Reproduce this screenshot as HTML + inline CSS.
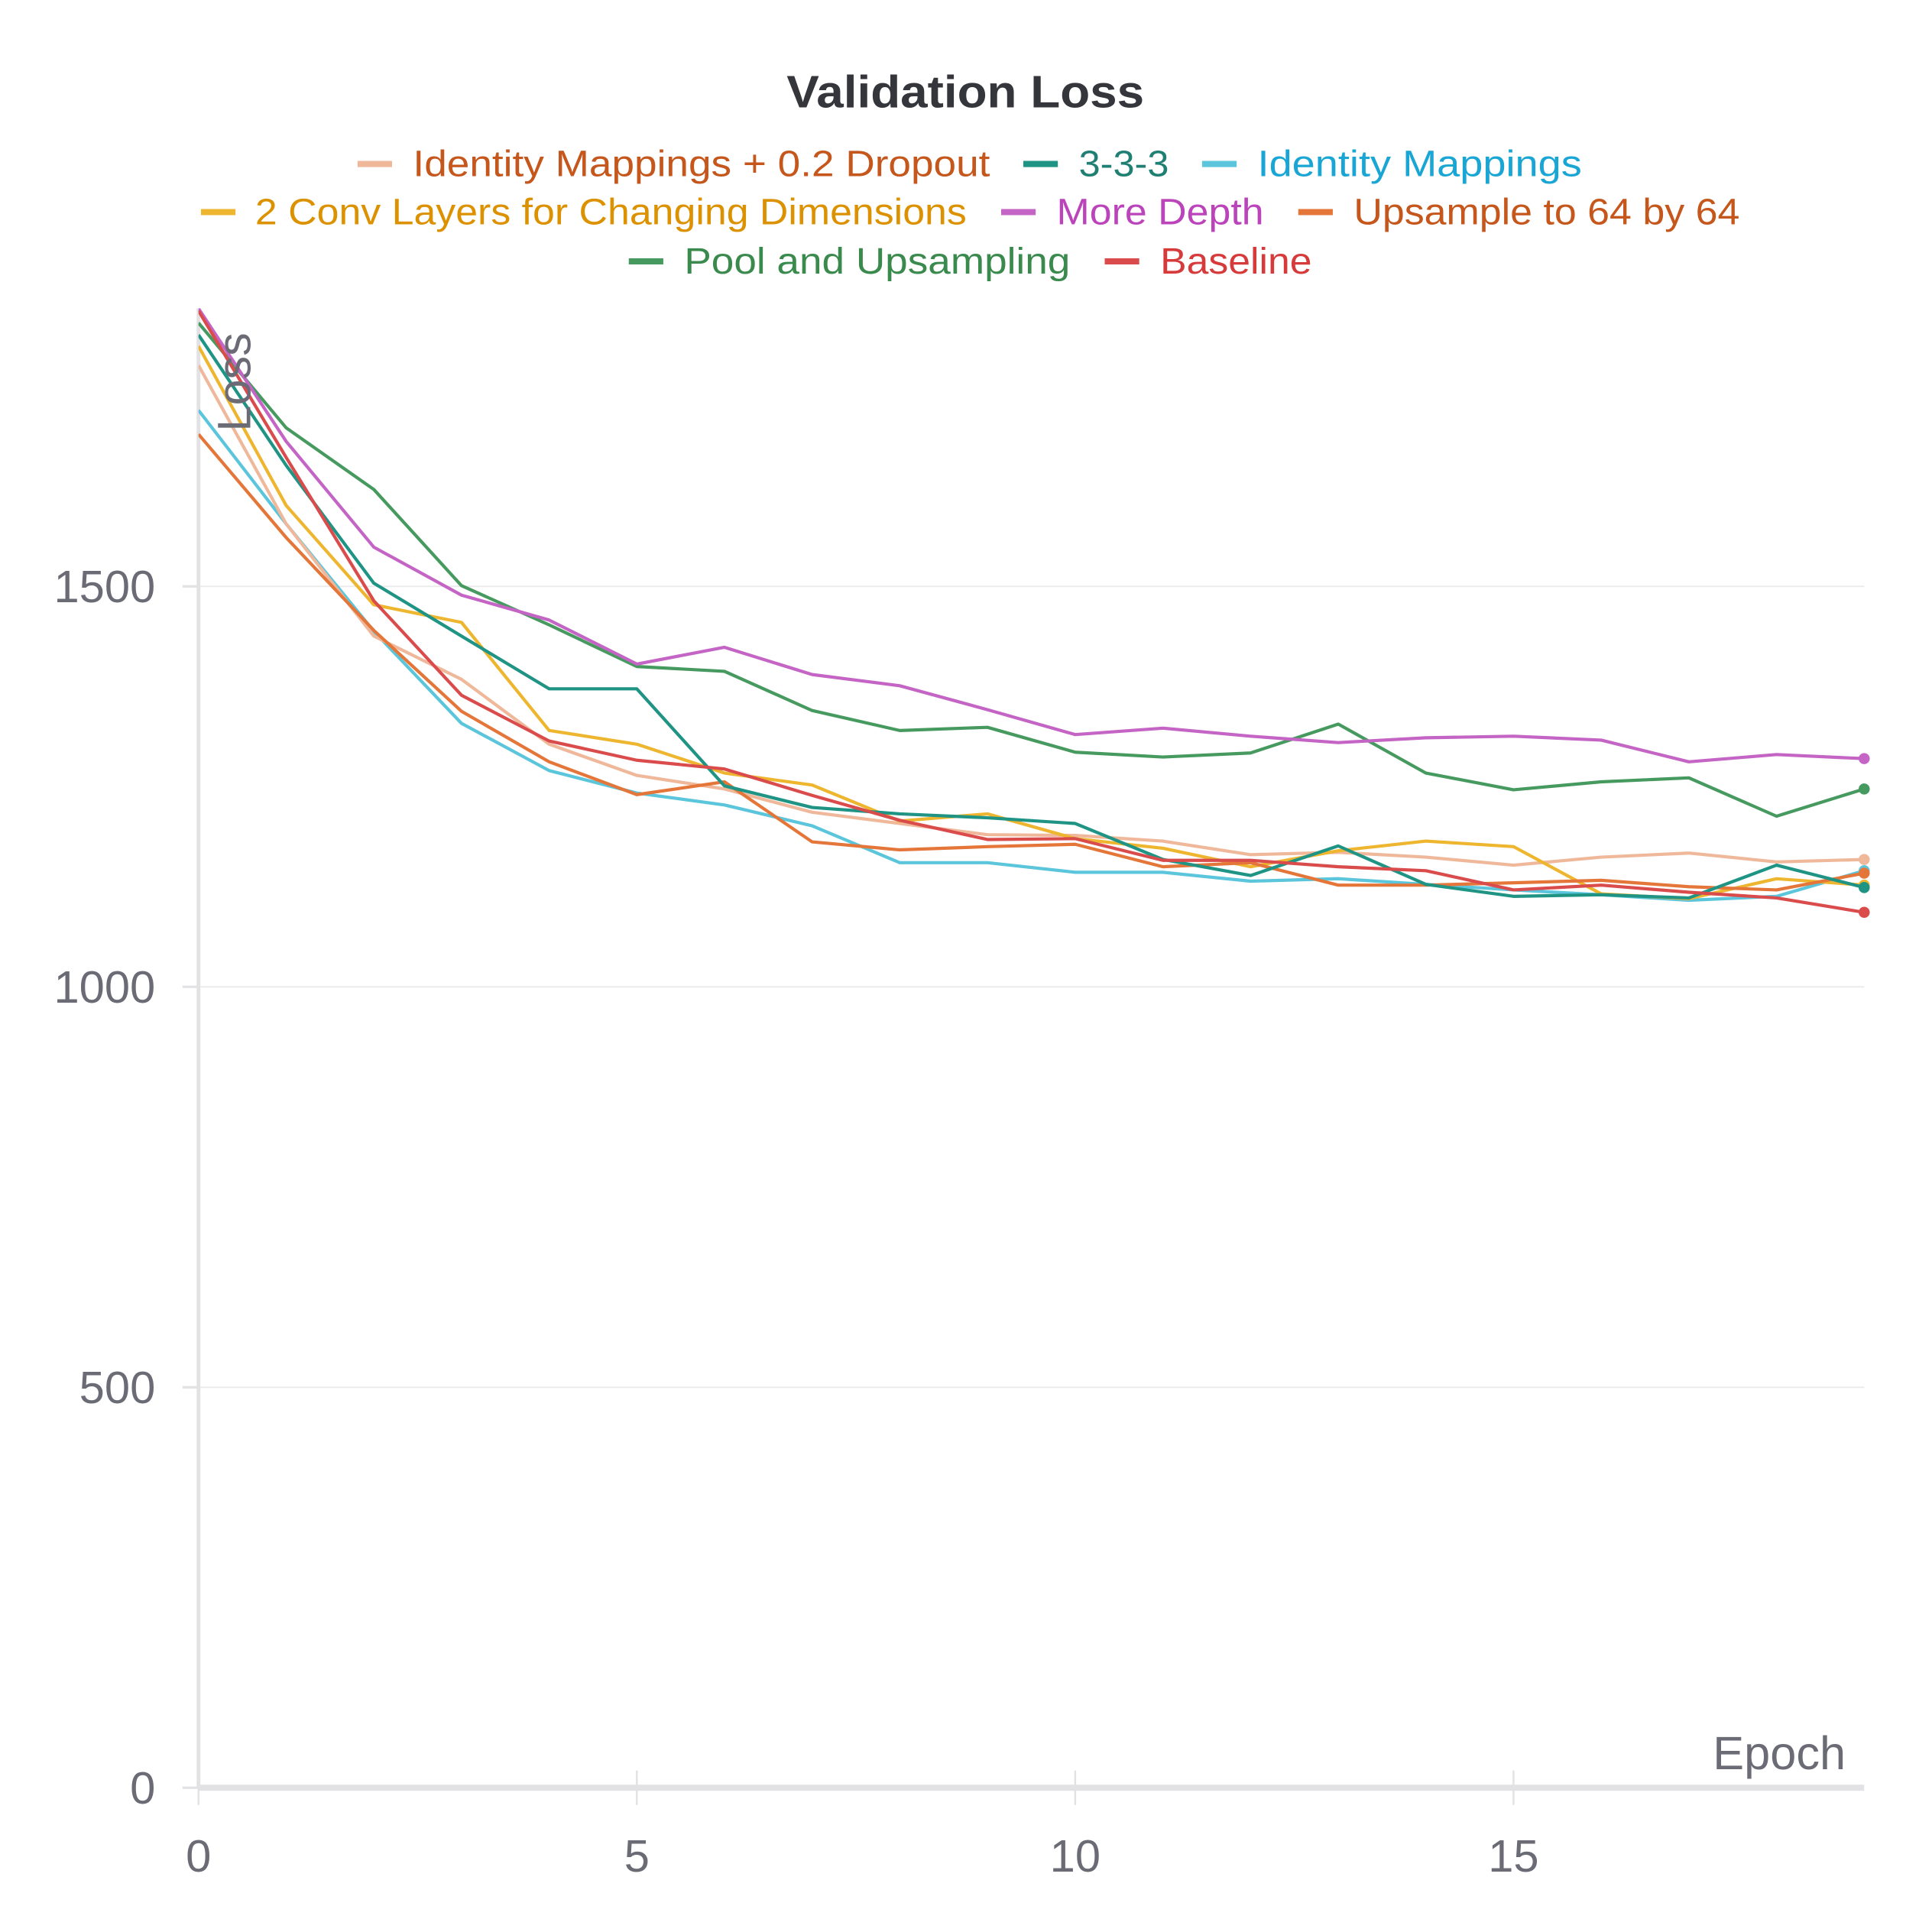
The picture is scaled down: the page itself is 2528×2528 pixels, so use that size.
<!DOCTYPE html>
<html><head><meta charset="utf-8"><style>
html,body{margin:0;padding:0;background:#fff;}
svg{display:block;font-family:"Liberation Sans",sans-serif;}
</style></head><body>
<svg id="chart" width="2528" height="2528" viewBox="0 0 1567 1567" xmlns="http://www.w3.org/2000/svg">
<text x="783" y="87" text-anchor="middle" font-size="37" font-weight="bold" fill="#35363b" textLength="290" lengthAdjust="spacingAndGlyphs">Validation Loss</text>
<g>
<line x1="290" x2="318" y1="133" y2="133" stroke="#f0b89a" stroke-width="5"/>
<text x="335" y="143" font-size="30" fill="#c5561c" textLength="468" lengthAdjust="spacingAndGlyphs">Identity Mappings + 0.2 Dropout</text>
<line x1="830" x2="858" y1="133" y2="133" stroke="#1f9484" stroke-width="5"/>
<text x="875" y="143" font-size="30" fill="#1f7f72" textLength="73" lengthAdjust="spacingAndGlyphs">3-3-3</text>
<line x1="975" x2="1003" y1="133" y2="133" stroke="#5bc5dc" stroke-width="5"/>
<text x="1020" y="143" font-size="30" fill="#1aa6d4" textLength="263" lengthAdjust="spacingAndGlyphs">Identity Mappings</text>
<line x1="163" x2="191" y1="172" y2="172" stroke="#eeb52f" stroke-width="5"/>
<text x="207" y="182" font-size="30" fill="#dc9200" textLength="577" lengthAdjust="spacingAndGlyphs">2 Conv Layers for Changing Dimensions</text>
<line x1="812" x2="840" y1="172" y2="172" stroke="#c465c6" stroke-width="5"/>
<text x="857" y="182" font-size="30" fill="#bb44bb" textLength="168" lengthAdjust="spacingAndGlyphs">More Depth</text>
<line x1="1053" x2="1081" y1="172" y2="172" stroke="#e5763a" stroke-width="5"/>
<text x="1098" y="182" font-size="30" fill="#c5561c" textLength="313" lengthAdjust="spacingAndGlyphs">Upsample to 64 by 64</text>
<line x1="510" x2="538" y1="212" y2="212" stroke="#479a5f" stroke-width="5"/>
<text x="555" y="222" font-size="30" fill="#3a8a4e" textLength="313" lengthAdjust="spacingAndGlyphs">Pool and Upsampling</text>
<line x1="896" x2="924" y1="212" y2="212" stroke="#da4c4c" stroke-width="5"/>
<text x="941" y="222" font-size="30" fill="#d63a3a" textLength="123" lengthAdjust="spacingAndGlyphs">Baseline</text>
</g>
<g id="grid"></g>
<g id="axes"></g>
<g id="series"></g>
<text transform="translate(203,350) rotate(-90)" font-size="38" fill="#6b6b76">Loss</text>
<text x="1497" y="1435" text-anchor="end" font-size="38" fill="#6b6b76">Epoch</text>
</svg>
<script>
const epochs = [0,1,2,3,4,5,6,7,8,9,10,11,12,13,14,15,16,17,18,19];
const lineColors = ["#f0b89a","#1f9484","#5bc5dc","#eeb52f","#c465c6","#e5763a","#479a5f","#da4c4c"];
const dropoutVals = [1776,1578,1438,1384,1303,1264,1247,1218,1204,1190,1189,1182,1165,1168,1162,1152,1162,1167,1156,1159];
const threeVals = [1814,1651,1504,1438,1372,1372,1251,1224,1216,1211,1204,1159,1139,1176,1128,1113,1115,1111,1152,1124];
const identityVals = [1720,1578,1444,1329,1270,1242,1227,1201,1155,1155,1143,1143,1132,1135,1128,1121,1115,1108,1113,1145];
const twoConvVals = [1800,1601,1477,1455,1320,1303,1267,1252,1207,1216,1185,1173,1150,1170,1182,1175,1116,1110,1135,1127];
const depthVals = [1847,1681,1549,1489,1458,1403,1424,1390,1376,1346,1315,1323,1313,1305,1311,1313,1308,1281,1290,1285];
const upsampleVals = [1690,1561,1445,1344,1281,1240,1256,1181,1171,1175,1178,1150,1155,1127,1127,1130,1133,1125,1121,1142];
const poolVals = [1829,1698,1621,1501,1452,1400,1394,1345,1320,1324,1293,1287,1292,1328,1267,1246,1256,1261,1213,1247];
const baselineVals = [1844,1661,1482,1364,1307,1283,1272,1239,1208,1184,1185,1158,1158,1150,1145,1121,1127,1118,1111,1093];
const allVals = [dropoutVals,threeVals,identityVals,twoConvVals,depthVals,upsampleVals,poolVals,baselineVals];
const yTicks = [0,500,1000,1500];
const xTicks = [0,5,10,15];

const NS="http://www.w3.org/2000/svg";
const X0=161, X1=1512, Y0=1450, YTOP=250;
const xs = e => X0 + e*(X1-X0)/19;
const ys = v => Y0 - v*0.6496;
function mk(tag, parent, attrs){const el=document.createElementNS(NS,tag);for(const k in attrs)el.setAttribute(k,attrs[k]);parent.appendChild(el);return el;}
const svg=document.getElementById('chart');
const defs=mk('defs',svg,{});
const cp=mk('clipPath',defs,{id:'plotclip'});
mk('rect',cp,{x:X0,y:YTOP,width:X1-X0+10,height:Y0-YTOP});

const grid=document.getElementById('grid');
yTicks.forEach(t=>{
  if(t>0){const g=mk('line',grid,{x1:X0,x2:X1,y1:ys(t),y2:ys(t),stroke:'#ebebeb','stroke-width':1.2});
  
  }
  const tk=mk('line',grid,{x1:148,x2:X0,y1:ys(t),y2:ys(t),stroke:'#e2e2e4','stroke-width':2});
  
  
  const lb=mk('text',grid,{x:126,y:ys(t)+13,'text-anchor':'end','font-size':37,fill:'#6b6b76'});
  lb.textContent=t;
  
  
});
xTicks.forEach(t=>{
  const tk=mk('line',grid,{x1:xs(t),x2:xs(t),y1:1436,y2:1464,stroke:'#e2e2e4','stroke-width':1.5});
  
  
  const lb=mk('text',grid,{x:xs(t),y:1518,'text-anchor':'middle','font-size':37,fill:'#6b6b76'});
  lb.textContent=t;
  
  
});
const axes=document.getElementById('axes');
const ya=mk('line',axes,{x1:X0,x2:X0,y1:YTOP,y2:Y0,stroke:'#e2e2e4','stroke-width':3});


const xa=mk('line',axes,{x1:X0,x2:X1,y1:Y0,y2:Y0,stroke:'#e2e2e4','stroke-width':5});



const sg=document.getElementById('series');
const order=[2,0,3,5,1,6,4,7];
order.forEach(i=>{
  const vals=allVals[i];
  const pts=epochs.map((e,j)=>xs(e).toFixed(1)+','+ys(vals[j]).toFixed(1)).join(' ');
  const pl=mk('polyline',sg,{points:pts,fill:'none',stroke:lineColors[i],'stroke-width':2.6,'stroke-linejoin':'round','clip-path':'url(#plotclip)'});
  
  
  const last=epochs.length-1;
  const c=mk('circle',sg,{cx:xs(epochs[last]),cy:ys(vals[last]),r:4.5,fill:lineColors[i]});
  
  
});
</script>
</body></html>
